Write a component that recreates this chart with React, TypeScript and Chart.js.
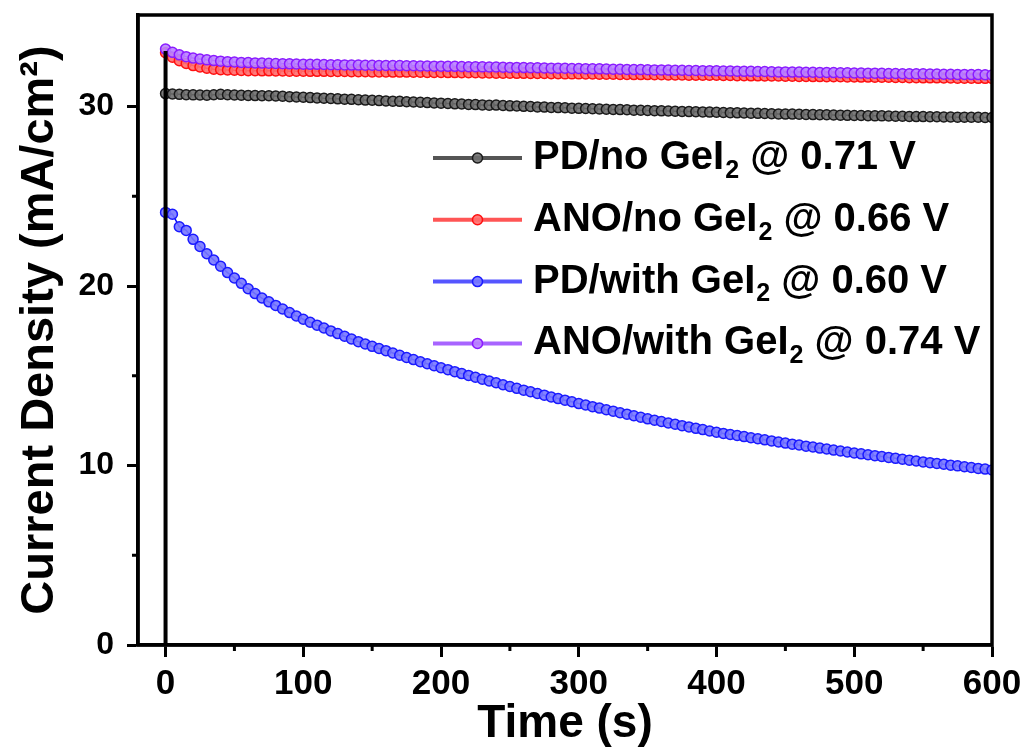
import React, { useEffect, useRef } from 'react';
import { Chart, registerables } from 'chart.js';

Chart.register(...registerables);

// ---- data ----
const timeS = [
  0, 5, 10, 15, 20, 25, 30, 35, 40, 45,
  50, 55, 60, 65, 70, 75, 80, 85, 90, 95,
  100, 105, 110, 115, 120, 125, 130, 135, 140, 145,
  150, 155, 160, 165, 170, 175, 180, 185, 190, 195,
  200, 205, 210, 215, 220, 225, 230, 235, 240, 245,
  250, 255, 260, 265, 270, 275, 280, 285, 290, 295,
  300, 305, 310, 315, 320, 325, 330, 335, 340, 345,
  350, 355, 360, 365, 370, 375, 380, 385, 390, 395,
  400, 405, 410, 415, 420, 425, 430, 435, 440, 445,
  450, 455, 460, 465, 470, 475, 480, 485, 490, 495,
  500, 505, 510, 515, 520, 525, 530, 535, 540, 545,
  550, 555, 560, 565, 570, 575, 580, 585, 590, 595,
  600,
];

const pdNoGeI2 = [
  30.72, 30.7, 30.68, 30.66, 30.65, 30.64, 30.63, 30.66, 30.68, 30.66,
  30.64, 30.63, 30.62, 30.61, 30.6, 30.6, 30.59, 30.57, 30.55, 30.53,
  30.52, 30.5, 30.48, 30.46, 30.45, 30.43, 30.41, 30.4, 30.38, 30.36,
  30.35, 30.33, 30.31, 30.3, 30.29, 30.27, 30.25, 30.24, 30.22, 30.2,
  30.19, 30.17, 30.15, 30.14, 30.12, 30.11, 30.09, 30.07, 30.08, 30.06,
  30.04, 30.03, 30.01, 30.0, 29.98, 29.97, 29.95, 29.94, 29.93, 29.91,
  29.9, 29.89, 29.88, 29.86, 29.85, 29.84, 29.83, 29.82, 29.8, 29.79,
  29.78, 29.77, 29.76, 29.75, 29.74, 29.73, 29.72, 29.71, 29.7, 29.69,
  29.68, 29.67, 29.66, 29.65, 29.64, 29.63, 29.62, 29.61, 29.6, 29.59,
  29.58, 29.58, 29.57, 29.56, 29.55, 29.54, 29.54, 29.53, 29.52, 29.51,
  29.5, 29.5, 29.49, 29.48, 29.48, 29.47, 29.46, 29.46, 29.45, 29.44,
  29.44, 29.43, 29.43, 29.42, 29.42, 29.41, 29.41, 29.4, 29.4, 29.39,
  29.39,
];

const anoNoGeI2 = [
  33.0, 32.75, 32.55, 32.4, 32.28, 32.2, 32.13, 32.08, 32.05, 32.04,
  32.02, 32.01, 32.0, 32.0, 31.99, 31.99, 31.98, 31.98, 31.97, 31.97,
  31.97, 31.96, 31.96, 31.96, 31.95, 31.95, 31.95, 31.94, 31.94, 31.94,
  31.93, 31.93, 31.93, 31.92, 31.92, 31.92, 31.91, 31.91, 31.9, 31.9,
  31.9, 31.89, 31.89, 31.88, 31.88, 31.88, 31.87, 31.87, 31.86, 31.86,
  31.86, 31.85, 31.85, 31.84, 31.84, 31.84, 31.83, 31.83, 31.82, 31.82,
  31.82, 31.81, 31.81, 31.8, 31.8, 31.8, 31.79, 31.79, 31.78, 31.78,
  31.78, 31.77, 31.77, 31.76, 31.76, 31.76, 31.75, 31.75, 31.74, 31.74,
  31.74, 31.73, 31.73, 31.72, 31.72, 31.71, 31.71, 31.7, 31.7, 31.7,
  31.69, 31.69, 31.68, 31.68, 31.67, 31.67, 31.66, 31.66, 31.66, 31.65,
  31.65, 31.64, 31.64, 31.63, 31.63, 31.63, 31.62, 31.62, 31.61, 31.61,
  31.6, 31.6, 31.6, 31.59, 31.59, 31.58, 31.58, 31.58, 31.57, 31.57,
  31.56,
];

const pdWithGeI2 = [
  24.1, 24.0, 23.3, 23.1, 22.6, 22.2, 21.8, 21.45, 21.1, 20.75,
  20.45, 20.15, 19.85, 19.58, 19.33, 19.12, 18.92, 18.72, 18.52, 18.33,
  18.15, 17.98, 17.82, 17.66, 17.5, 17.35, 17.2, 17.05, 16.9, 16.77,
  16.64, 16.52, 16.4, 16.27, 16.14, 16.02, 15.9, 15.78, 15.67, 15.56,
  15.45, 15.34, 15.23, 15.12, 15.02, 14.92, 14.81, 14.71, 14.61, 14.5,
  14.4, 14.3, 14.2, 14.11, 14.01, 13.92, 13.82, 13.73, 13.64, 13.55,
  13.45, 13.37, 13.28, 13.2, 13.11, 13.03, 12.94, 12.86, 12.77, 12.69,
  12.6, 12.52, 12.45, 12.37, 12.3, 12.22, 12.15, 12.07, 12.0, 11.92,
  11.85, 11.79, 11.73, 11.67, 11.61, 11.55, 11.49, 11.43, 11.37, 11.31,
  11.25, 11.19, 11.14, 11.08, 11.03, 10.97, 10.92, 10.86, 10.81, 10.75,
  10.7, 10.65, 10.6, 10.55, 10.5, 10.45, 10.4, 10.35, 10.3, 10.25,
  10.2, 10.16, 10.11, 10.07, 10.02, 9.98, 9.93, 9.89, 9.84, 9.8,
  9.75,
];

const anoWithGeI2 = [
  33.2, 33.02, 32.88, 32.78, 32.7, 32.65, 32.6, 32.56, 32.53, 32.5,
  32.48, 32.46, 32.45, 32.43, 32.42, 32.41, 32.4, 32.39, 32.38, 32.37,
  32.36, 32.35, 32.35, 32.34, 32.33, 32.33, 32.32, 32.31, 32.31, 32.3,
  32.3, 32.29, 32.29, 32.28, 32.28, 32.27, 32.27, 32.26, 32.26, 32.25,
  32.25, 32.24, 32.24, 32.23, 32.22, 32.22, 32.21, 32.2, 32.2, 32.19,
  32.18, 32.18, 32.17, 32.16, 32.16, 32.15, 32.14, 32.14, 32.13, 32.12,
  32.12, 32.11, 32.1, 32.1, 32.09, 32.08, 32.08, 32.07, 32.06, 32.06,
  32.05, 32.04, 32.04, 32.03, 32.02, 32.02, 32.01, 32.01, 32.0, 32.0,
  31.99, 31.98, 31.98, 31.97, 31.96, 31.96, 31.95, 31.95, 31.94, 31.93,
  31.93, 31.92, 31.92, 31.91, 31.91, 31.9, 31.9, 31.89, 31.88, 31.88,
  31.87, 31.87, 31.86, 31.86, 31.85, 31.84, 31.84, 31.83, 31.83, 31.82,
  31.82, 31.81, 31.81, 31.8, 31.8, 31.79, 31.79, 31.78, 31.78, 31.77,
  31.76,
];

// initial current step at t = 0
const stepTime = [0, 0];
const stepCurrent = [0, 33.1];

const seriesLabels = [
  'PD/no GeI₂ @ 0.71 V',
  'ANO/no GeI₂ @ 0.66 V',
  'PD/with GeI₂ @ 0.60 V',
  'ANO/with GeI₂ @ 0.74 V',
];

const xMajorTicks = [0, 100, 200, 300, 400, 500, 600];
const xMinorTicks = [50, 150, 250, 350, 450, 550];
const yMajorTicks = [0, 10, 20, 30];
const yMinorTicks = [5, 15, 25];

const FONT = '"Liberation Sans", Arial, sans-serif';

const seriesStyles = [
  { line: '#000000', point: '#1a1a1a', fill: 'rgba(110,110,110,0.9)', legendLine: '#555555', order: 4 },
  { line: '#ff0000', point: '#ff1010', fill: 'rgba(255,110,110,0.9)', legendLine: '#ff5555', order: 3 },
  { line: '#0000ff', point: '#1a1aff', fill: 'rgba(120,120,255,0.9)', legendLine: '#5555ff', order: 2 },
  { line: '#8000ff', point: '#8a1aff', fill: 'rgba(185,130,255,0.9)', legendLine: '#a864ff', order: 1 },
];

const seriesData = [pdNoGeI2, anoNoGeI2, pdWithGeI2, anoWithGeI2];

const framePlugin = {
  id: 'frameAndExtras',
  afterDraw(chart: any) {
    const ctx = chart.ctx as CanvasRenderingContext2D;
    const { left, right, top, bottom } = chart.chartArea;
    const xs = chart.scales.x;
    const ys = chart.scales.y;
    ctx.save();
    // frame
    ctx.strokeStyle = '#000';
    ctx.lineWidth = 3.5;
    ctx.strokeRect(left, top, right - left, bottom - top);
    // minor ticks
    ctx.lineWidth = 3;
    ctx.beginPath();
    xMinorTicks.forEach((v) => {
      const px = xs.getPixelForValue(v);
      ctx.moveTo(px, bottom);
      ctx.lineTo(px, bottom + 6);
    });
    yMinorTicks.forEach((v) => {
      const py = ys.getPixelForValue(v);
      ctx.moveTo(left, py);
      ctx.lineTo(left - 6, py);
    });
    ctx.stroke();

    // legend
    const lx0 = left + 295;
    const lx1 = left + 384;
    const tx = left + 395;
    const rowY0 = top + 143;
    const rowStep = 61.8;
    seriesLabels.forEach((label, i) => {
      const st = seriesStyles[i];
      const y = rowY0 + i * rowStep;
      ctx.strokeStyle = st.legendLine;
      ctx.lineWidth = 4;
      ctx.beginPath();
      ctx.moveTo(lx0, y);
      ctx.lineTo(lx1, y);
      ctx.stroke();
      ctx.beginPath();
      ctx.arc((lx0 + lx1) / 2, y, 5, 0, Math.PI * 2);
      ctx.fillStyle = st.fill;
      ctx.fill();
      ctx.lineWidth = 1.5;
      ctx.strokeStyle = st.point;
      ctx.stroke();

      const parts = label.split('₂');
      ctx.fillStyle = '#000';
      ctx.textBaseline = 'middle';
      ctx.textAlign = 'left';
      ctx.font = `bold 40px ${FONT}`;
      let x = tx;
      ctx.fillText(parts[0], x, y);
      x += ctx.measureText(parts[0]).width;
      ctx.font = `bold 25px ${FONT}`;
      ctx.fillText('2', x + 1, y + 13);
      x += ctx.measureText('2').width + 1;
      ctx.font = `bold 40px ${FONT}`;
      ctx.fillText(parts[1], x, y);
    });
    ctx.restore();
  },
};

export default function App() {
  const canvasRef = useRef<HTMLCanvasElement>(null);

  useEffect(() => {
    const canvas = canvasRef.current;
    if (!canvas) return;
    const datasets: any[] = seriesData.map((arr, i) => ({
      label: seriesLabels[i],
      data: timeS.map((t, k) => ({ x: t, y: arr[k] })),
      borderColor: seriesStyles[i].line,
      borderWidth: 1.5,
      pointRadius: 5,
      pointBorderWidth: 1.5,
      pointBorderColor: seriesStyles[i].point,
      pointBackgroundColor: seriesStyles[i].fill,
      order: seriesStyles[i].order,
      tension: 0,
    }));
    datasets.push({
      label: 'step',
      data: stepTime.map((t, k) => ({ x: t, y: stepCurrent[k] })),
      borderColor: '#000',
      borderWidth: 4,
      pointRadius: 0,
      order: 0,
    });

    const chart = new Chart(canvas, {
      type: 'line',
      data: { datasets },
      plugins: [framePlugin],
      options: {
        animation: false,
        responsive: false,
        maintainAspectRatio: false,
        layout: { padding: { top: 15, right: 37, left: 0, bottom: 0 } },
        plugins: {
          legend: { display: false },
          tooltip: { enabled: false },
        },
        scales: {
          x: {
            type: 'linear',
            min: -20,
            max: 600,
            afterFit: (s: any) => {
              s.height = 108;
              s.paddingLeft = 0;
              s.paddingRight = 0;
            },
            afterBuildTicks: (s: any) => {
              s.ticks = xMajorTicks.map((v) => ({ value: v }));
            },
            ticks: {
              font: { family: FONT, size: 35, weight: 'bold' },
              color: '#000',
              padding: 6,
              maxRotation: 0,
              autoSkip: false,
            },
            grid: {
              drawOnChartArea: false,
              drawTicks: true,
              tickLength: 12,
              tickWidth: 3,
              tickColor: '#000',
            },
            border: { display: true, width: 3.5, color: '#000' },
            title: {
              display: true,
              text: 'Time (s)',
              font: { family: FONT, size: 46, weight: 'bold' },
              color: '#000',
              padding: { top: 0, bottom: 1 },
            },
          },
          y: {
            type: 'linear',
            min: 0,
            max: 35.1,
            afterFit: (s: any) => {
              s.width = 138;
              s.paddingTop = 0;
              s.paddingBottom = 0;
            },
            afterBuildTicks: (s: any) => {
              s.ticks = yMajorTicks.map((v) => ({ value: v }));
            },
            ticks: {
              font: { family: FONT, size: 32, weight: 'bold' },
              color: '#000',
              padding: 13,
              autoSkip: false,
            },
            grid: {
              drawOnChartArea: false,
              drawTicks: true,
              tickLength: 11,
              tickWidth: 3,
              tickColor: '#000',
            },
            border: { display: true, width: 3.5, color: '#000' },
            title: {
              display: true,
              text: 'Current Density (mA/cm²)',
              font: { family: FONT, size: 47, weight: 'bold' },
              color: '#000',
              padding: { top: 12, bottom: 0 },
            },
          },
        },
      },
    });
    return () => chart.destroy();
  }, []);

  return (
    <div style={{ position: 'fixed', left: 0, top: 0, width: 1029, height: 753, background: '#fff' }}>
      <canvas ref={canvasRef} width={1029} height={753} style={{ display: 'block', width: 1029, height: 753 }} />
    </div>
  );
}
